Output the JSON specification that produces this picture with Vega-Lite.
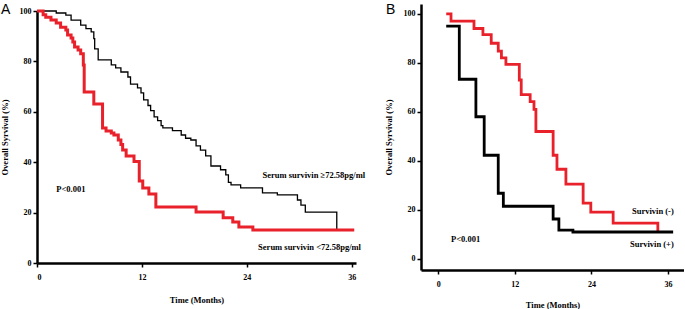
{
  "$schema": "https://vega.github.io/schema/vega-lite/v6.json",
  "padding": {"left": 0, "top": 3, "right": 0, "bottom": 0},
  "background": "white",
  "spacing": 65,
  "bounds": "flush",
  "center": true,
  "config": {
    "view": {"stroke": null},
    "font": "Liberation Serif",
    "axis": {
      "grid": false,
      "domainColor": "black",
      "domainWidth": 2.5,
      "tickColor": "black",
      "tickWidth": 1.5,
      "tickSize": 4,
      "labelFont": "Liberation Serif",
      "labelFontWeight": "bold",
      "labelFontSize": 8,
      "labelColor": "black",
      "titleFont": "Liberation Serif",
      "titleFontWeight": "bold",
      "titleFontSize": 8.5,
      "titleColor": "black"
    },
    "title": {"font": "Liberation Sans", "fontWeight": "normal", "fontSize": 14, "color": "black", "anchor": "start", "frame": "group"}
  },
  "datasets": {
    "a": [
      {"g": "hi", "t": 0, "s": 100}, {"g": "hi", "t": 2.2, "s": 99.2}, {"g": "hi", "t": 3.3, "s": 98.4}, {"g": "hi", "t": 3.9, "s": 96.4},
      {"g": "hi", "t": 5.0, "s": 94.4}, {"g": "hi", "t": 5.6, "s": 93}, {"g": "hi", "t": 6.2, "s": 91.7}, {"g": "hi", "t": 6.5, "s": 89},
      {"g": "hi", "t": 6.6, "s": 85}, {"g": "hi", "t": 7.0, "s": 80.6}, {"g": "hi", "t": 8.5, "s": 78.6}, {"g": "hi", "t": 9.0, "s": 77.4},
      {"g": "hi", "t": 9.6, "s": 75.8}, {"g": "hi", "t": 10.4, "s": 73.8}, {"g": "hi", "t": 10.7, "s": 71}, {"g": "hi", "t": 11.5, "s": 69.5},
      {"g": "hi", "t": 11.9, "s": 67.5}, {"g": "hi", "t": 12.2, "s": 64.7}, {"g": "hi", "t": 12.7, "s": 62.5}, {"g": "hi", "t": 13.0, "s": 60.5},
      {"g": "hi", "t": 13.4, "s": 58}, {"g": "hi", "t": 13.8, "s": 56.5}, {"g": "hi", "t": 14.2, "s": 54.5}, {"g": "hi", "t": 14.4, "s": 53.6},
      {"g": "hi", "t": 15.5, "s": 52.5}, {"g": "hi", "t": 16.5, "s": 50.8}, {"g": "hi", "t": 17.0, "s": 49.5}, {"g": "hi", "t": 17.6, "s": 48.8},
      {"g": "hi", "t": 18.2, "s": 46.5}, {"g": "hi", "t": 18.7, "s": 44.8}, {"g": "hi", "t": 19.3, "s": 42.5}, {"g": "hi", "t": 19.9, "s": 38.5},
      {"g": "hi", "t": 21.0, "s": 37}, {"g": "hi", "t": 21.6, "s": 35}, {"g": "hi", "t": 21.9, "s": 32}, {"g": "hi", "t": 22.2, "s": 31},
      {"g": "hi", "t": 23.3, "s": 29.8}, {"g": "hi", "t": 25.8, "s": 27.8}, {"g": "hi", "t": 27.5, "s": 27}, {"g": "hi", "t": 29.8, "s": 25},
      {"g": "hi", "t": 30.2, "s": 23}, {"g": "hi", "t": 30.7, "s": 20.2}, {"g": "hi", "t": 34.3, "s": 13.1},
      {"g": "lo", "t": 0, "s": 100}, {"g": "lo", "t": 0.7, "s": 98.5}, {"g": "lo", "t": 1.0, "s": 97.5}, {"g": "lo", "t": 1.6, "s": 96.4},
      {"g": "lo", "t": 2.2, "s": 95.2}, {"g": "lo", "t": 2.7, "s": 93.6}, {"g": "lo", "t": 3.3, "s": 92.5}, {"g": "lo", "t": 3.5, "s": 90.5},
      {"g": "lo", "t": 3.9, "s": 89.3}, {"g": "lo", "t": 4.1, "s": 87.7}, {"g": "lo", "t": 4.3, "s": 85.7}, {"g": "lo", "t": 4.7, "s": 84.5},
      {"g": "lo", "t": 5.0, "s": 83}, {"g": "lo", "t": 5.3, "s": 78.6}, {"g": "lo", "t": 5.4, "s": 67.9}, {"g": "lo", "t": 6.5, "s": 63.1},
      {"g": "lo", "t": 7.5, "s": 53.6}, {"g": "lo", "t": 7.9, "s": 52.4}, {"g": "lo", "t": 8.5, "s": 51.6}, {"g": "lo", "t": 8.8, "s": 50.8},
      {"g": "lo", "t": 9.3, "s": 48.8}, {"g": "lo", "t": 9.6, "s": 47}, {"g": "lo", "t": 9.8, "s": 44.8}, {"g": "lo", "t": 10.2, "s": 42.5},
      {"g": "lo", "t": 11.1, "s": 40.3}, {"g": "lo", "t": 11.7, "s": 32.5}, {"g": "lo", "t": 12.1, "s": 29.8}, {"g": "lo", "t": 12.8, "s": 27.4},
      {"g": "lo", "t": 13.6, "s": 22.2}, {"g": "lo", "t": 18.2, "s": 20.2}, {"g": "lo", "t": 21.3, "s": 18}, {"g": "lo", "t": 22.4, "s": 16.3},
      {"g": "lo", "t": 23.1, "s": 14.3}, {"g": "lo", "t": 24.7, "s": 13.1}, {"g": "lo", "t": 36.3, "s": 13.1}
    ],
    "b": [
      {"g": "neg", "t": 1.25, "s": 100}, {"g": "neg", "t": 2.0, "s": 97}, {"g": "neg", "t": 5.6, "s": 94}, {"g": "neg", "t": 7.0, "s": 91.5},
      {"g": "neg", "t": 8.3, "s": 88}, {"g": "neg", "t": 9.4, "s": 84.8}, {"g": "neg", "t": 9.9, "s": 82}, {"g": "neg", "t": 10.6, "s": 79.4},
      {"g": "neg", "t": 12.7, "s": 73}, {"g": "neg", "t": 13.0, "s": 67}, {"g": "neg", "t": 14.4, "s": 64.2}, {"g": "neg", "t": 15.0, "s": 61},
      {"g": "neg", "t": 15.3, "s": 52}, {"g": "neg", "t": 18.0, "s": 42.3}, {"g": "neg", "t": 18.6, "s": 36.6}, {"g": "neg", "t": 20.0, "s": 30.5},
      {"g": "neg", "t": 22.7, "s": 22.8}, {"g": "neg", "t": 23.9, "s": 19.1}, {"g": "neg", "t": 27.4, "s": 14.6}, {"g": "neg", "t": 34.4, "s": 11},
      {"g": "pos", "t": 1.25, "s": 95}, {"g": "pos", "t": 3.3, "s": 73.3}, {"g": "pos", "t": 5.9, "s": 58}, {"g": "pos", "t": 7.2, "s": 42.3},
      {"g": "pos", "t": 9.4, "s": 26.8}, {"g": "pos", "t": 10.2, "s": 21.5}, {"g": "pos", "t": 18.0, "s": 16.3}, {"g": "pos", "t": 18.9, "s": 11.8},
      {"g": "pos", "t": 21.1, "s": 11}, {"g": "pos", "t": 36.8, "s": 11}
    ],
    "alabels": [
      {"t": 2.2, "s": 29.5, "label": "P<0.001"},
      {"t": 25.8, "s": 35, "label": "Serum survivin ≥72.58pg/ml"},
      {"t": 25.3, "s": 6.3, "label": "Serum survivin <72.58pg/ml"}
    ],
    "bleft": [
      {"t": 2.0, "s": 8.1, "label": "P<0.001"}
    ],
    "bright": [
      {"t": 36.9, "s": 19.5, "label": "Survivin (-)"},
      {"t": 36.9, "s": 6.1, "label": "Survivin (+)"}
    ]
  },
  "hconcat": [
    {
      "width": 319,
      "height": 252,
      "title": {"text": "A", "dx": -36, "offset": -12, "baseline": "top"},
      "layer": [
        {
          "data": {"name": "a"},
          "mark": {"type": "line", "interpolate": "step-after"},
          "encoding": {
            "x": {"field": "t", "type": "quantitative", "scale": {"domain": [0, 36.5], "nice": false},
                  "axis": {"values": [0, 12, 24, 36], "title": "Time (Months)", "titlePadding": 14, "labelPadding": 6}},
            "y": {"field": "s", "type": "quantitative", "scale": {"domain": [0, 100], "nice": false},
                  "axis": {"values": [0, 20, 40, 60, 80, 100], "title": "Overall Syrvival (%)", "titlePadding": 10}},
            "color": {"field": "g", "type": "nominal", "scale": {"domain": ["hi", "lo"], "range": ["black", "#e8212b"]}, "legend": null},
            "strokeWidth": {"field": "g", "type": "nominal", "scale": {"domain": ["hi", "lo"], "range": [1.3, 3]}, "legend": null}
          }
        },
        {
          "data": {"name": "alabels"},
          "mark": {"type": "text", "font": "Liberation Serif", "fontWeight": "bold", "fontSize": 8.5, "color": "black", "baseline": "middle", "align": "left"},
          "encoding": {
            "x": {"field": "t", "type": "quantitative"},
            "y": {"field": "s", "type": "quantitative"},
            "text": {"field": "label"}
          }
        }
      ]
    },
    {
      "width": 263,
      "height": 266,
      "title": {"text": "B", "dx": -35, "offset": -13, "baseline": "top"},
      "layer": [
        {
          "data": {"name": "b"},
          "mark": {"type": "line", "interpolate": "step-after", "strokeWidth": 2.8},
          "encoding": {
            "x": {"field": "t", "type": "quantitative", "scale": {"domain": [-2.7, 38.5], "nice": false, "zero": false},
                  "axis": {"values": [0, 12, 24, 36], "title": "Time (Months)", "titlePadding": 12, "labelPadding": 6}},
            "y": {"field": "s", "type": "quantitative", "scale": {"domain": [-4.5, 104], "nice": false, "zero": false},
                  "axis": {"values": [0, 20, 40, 60, 80, 100], "title": "Overall Syrvival (%)", "titlePadding": 10}},
            "color": {"field": "g", "type": "nominal", "scale": {"domain": ["pos", "neg"], "range": ["black", "#e8212b"]}, "legend": null}
          }
        },
        {
          "data": {"name": "bleft"},
          "mark": {"type": "text", "font": "Liberation Serif", "fontWeight": "bold", "fontSize": 8.5, "color": "black", "baseline": "middle", "align": "left"},
          "encoding": {
            "x": {"field": "t", "type": "quantitative"},
            "y": {"field": "s", "type": "quantitative"},
            "text": {"field": "label"}
          }
        },
        {
          "data": {"name": "bright"},
          "mark": {"type": "text", "font": "Liberation Serif", "fontWeight": "bold", "fontSize": 8.5, "color": "black", "baseline": "middle", "align": "right"},
          "encoding": {
            "x": {"field": "t", "type": "quantitative"},
            "y": {"field": "s", "type": "quantitative"},
            "text": {"field": "label"}
          }
        }
      ]
    }
  ],
  "resolve": {"scale": {"color": "independent", "strokeWidth": "independent"}}
}
